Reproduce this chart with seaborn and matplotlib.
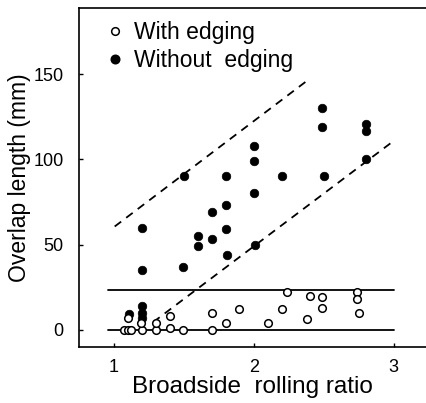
import matplotlib
matplotlib.use("Agg")
import matplotlib.pyplot as plt
import seaborn as sns
import pandas as pd
from matplotlib.lines import Line2D

# ---- data ----
with_x = [1.07, 1.10, 1.12, 1.10, 1.20, 1.19, 1.30, 1.30, 1.40, 1.40, 1.49, 1.70, 1.70,
          1.80, 1.89, 2.10, 2.20, 2.24, 2.38, 2.40, 2.49, 2.49, 2.74, 2.74, 2.75]
with_y = [0, 0, 0, 7, 0, 4, 0, 4, 1, 8, 0, 0, 10,
          4, 12, 4, 12, 22, 6, 20, 19, 13, 22, 18, 10]

without_x = [1.11, 1.20, 1.20, 1.20, 1.20, 1.20, 1.49, 1.50, 1.60, 1.60, 1.70, 1.70,
             1.80, 1.80, 1.80, 1.81, 2.00, 2.00, 2.00, 2.01, 2.20, 2.49, 2.49, 2.50,
             2.80, 2.80, 2.80]
without_y = [9, 60, 35, 14, 10, 7, 37, 90, 55, 49, 69, 53,
             90, 73, 59, 44, 108, 99, 80, 50, 90, 130, 119, 90,
             121, 117, 100]

# reference lines (x endpoints, y endpoints)
upper_dash_x = [1.005, 2.39]
upper_dash_y = [60.6, 146.9]
lower_dash_x = [1.28, 3.01]
lower_dash_y = [4.4, 111.6]
hline_x = [0.96, 3.0]
hline_levels = [0, 23.3]

xticks = [1, 2, 3]
yticks = [0, 50, 100, 150]

df_with = pd.DataFrame({"x": with_x, "y": with_y})
df_without = pd.DataFrame({"x": without_x, "y": without_y})

sns.set_style("ticks")
plt.rcParams["font.family"] = ["Liberation Sans", "DejaVu Sans"]
plt.rcParams["text.color"] = "black"
plt.rcParams["axes.labelcolor"] = "black"
plt.rcParams["xtick.color"] = "black"
plt.rcParams["ytick.color"] = "black"

fig = plt.figure(figsize=(4.26, 4.03), dpi=100)
ax = fig.add_axes([79/426, 56/403, 347/426, 339/403])

for lvl in hline_levels:
    ax.plot(hline_x, [lvl, lvl], color="black", lw=1.3, zorder=1)
ax.plot(upper_dash_x, upper_dash_y, color="black", lw=1.3, ls=(0, (4.5, 3.5)), zorder=1)
ax.plot(lower_dash_x, lower_dash_y, color="black", lw=1.3, ls=(0, (4.5, 3.5)), zorder=1)

sns.scatterplot(data=df_without, x="x", y="y", ax=ax, color="black", s=38,
                edgecolor="black", linewidth=0.5, zorder=3, legend=False)
sns.scatterplot(data=df_with, x="x", y="y", ax=ax, facecolor="white", s=30,
                edgecolor="black", linewidth=1.1, zorder=4, legend=False)

ax.set_xlim(0.75, 3.23)
ax.set_ylim(-10.2, 189)
ax.set_xticks(xticks)
ax.set_xticklabels([str(t) for t in xticks])
ax.set_yticks(yticks)
ax.set_yticklabels([str(t) for t in yticks])
ax.tick_params(direction="in", length=3, width=1, labelsize=13, pad=11,
               colors="black")
ax.tick_params(axis="x", pad=9)

for side in ["top", "bottom", "left"]:
    ax.spines[side].set_linewidth(1.2)
    ax.spines[side].set_color("black")
ax.spines["right"].set_visible(False)

ax.set_xlabel("Broadside  rolling ratio", fontsize=17.5, labelpad=0, color="black")
ax.set_ylabel("Overlap length (mm)", fontsize=16.5, labelpad=2, color="black")

handles = [
    Line2D([], [], marker="o", ls="none", markerfacecolor="white",
           markeredgecolor="black", markersize=5.5, markeredgewidth=1.1),
    Line2D([], [], marker="o", ls="none", markerfacecolor="black",
           markeredgecolor="black", markersize=6.2),
]
leg = ax.legend(handles, ["With edging", "Without  edging"], loc="upper left",
                bbox_to_anchor=(0.025, 1.01), frameon=False, fontsize=16.5,
                handletextpad=0.3, labelspacing=0.25, handlelength=1.0, borderpad=0.2)
for t in leg.get_texts():
    t.set_color("black")

fig.savefig("out.png", dpi=100)
